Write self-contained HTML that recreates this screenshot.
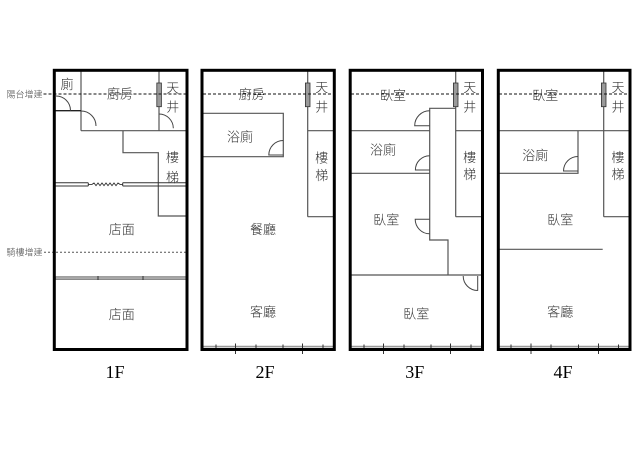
<!DOCTYPE html>
<html>
<head>
<meta charset="utf-8">
<style>
  html,body{margin:0;padding:0;background:#fff;}
  svg{display:block;}
  .t{font-family:"Liberation Sans","Noto Sans CJK TC","Noto Sans CJK SC",sans-serif;font-size:13px;font-weight:300;fill:#333;text-anchor:middle;}
  .s{font-family:"Liberation Sans","Noto Sans CJK TC","Noto Sans CJK SC",sans-serif;font-size:9px;font-weight:300;fill:#444;}
  .f{font-family:"Liberation Serif",serif;font-size:18px;fill:#000;text-anchor:middle;}
  .w{stroke:#000;stroke-width:3;fill:none;}
  .i{stroke:#555;stroke-width:1.2;fill:none;}
  .d{stroke:#444;stroke-width:1;fill:none;}
  .col{fill:#9a9a9a;stroke:#333;stroke-width:0.8;}
  .dash{stroke:#111;stroke-width:1;stroke-dasharray:3,2;fill:none;}
  .dot{stroke:#555;stroke-width:1;stroke-dasharray:2,2;fill:none;}
  .tk{stroke:#333;stroke-width:1;}
  .gl{stroke:#999;stroke-width:1.6;}
</style>
</head>
<body>
<svg width="640" height="453" viewBox="0 0 640 453" xmlns="http://www.w3.org/2000/svg">
  <rect x="0" y="0" width="640" height="453" fill="#fff"/>

  <!-- ================= 1F ================= -->
  <line class="i" x1="81" y1="70" x2="81" y2="130.7"/>
  <line x1="55" y1="110.7" x2="81" y2="110.7" stroke="#222" stroke-width="1.4"/>
  <line class="i" x1="81" y1="130.7" x2="187" y2="130.7" stroke-width="1.6"/>
  <line class="i" x1="159" y1="70" x2="159" y2="130.7"/>
  <polyline class="i" points="123,130.7 123,152.7 158.3,152.7 158.3,216 187,216"/>
  <line x1="55" y1="182.8" x2="88.3" y2="182.8" stroke="#333" stroke-width="1"/>
  <line x1="55" y1="186" x2="88.3" y2="186" stroke="#333" stroke-width="1"/>
  <line x1="122.7" y1="182.8" x2="187" y2="182.8" stroke="#333" stroke-width="1"/>
  <line x1="122.7" y1="186" x2="187" y2="186" stroke="#333" stroke-width="1"/>
  <line x1="88.3" y1="182.8" x2="88.3" y2="186" stroke="#333" stroke-width="1"/>
  <line x1="122.7" y1="182.8" x2="122.7" y2="186" stroke="#333" stroke-width="1"/>
  <polyline fill="none" stroke="#333" stroke-width="0.9" points="88.3,184.4 92,184.4 94,183 96,185.6 98,183 100,185.6 102,183 104,185.6 106,183 108,185.6 110,183 112,185.6 114,183 116,185.6 118,183 120,184.4 122.7,184.4"/>
  <rect x="55.5" y="276.7" width="131" height="2.8" fill="#aaa" stroke="#777" stroke-width="0.8"/>
  <line class="tk" x1="98" y1="276" x2="98" y2="280"/>
  <line class="tk" x1="143" y1="276" x2="143" y2="280"/>
  <path class="d" d="M56,96 A14.5,14.5 0 0 1 70.5,110.5"/>
  <path class="d" d="M81,111 A15,15 0 0 1 96,126"/>
  <path class="d" d="M159,114 A14.3,14.3 0 0 1 173.3,128.3"/>
  <rect class="col" x="156.8" y="83" width="4.6" height="23.7"/>
  <line class="dash" x1="43.5" y1="94" x2="186" y2="94"/>
  <line class="dot" x1="44" y1="252.3" x2="186" y2="252.3"/>
  <text class="s" x="6.5" y="97.4">陽台增建</text>
  <text class="s" x="6.5" y="255.7">騎樓增建</text>
  <text class="t" x="67" y="89">廁</text>
  <text class="t" x="120" y="98.3">廚房</text>
  <text class="t" x="172.7" y="92.3">天</text>
  <text class="t" x="172.7" y="111.7">井</text>
  <text class="t" x="172.5" y="162">樓</text>
  <text class="t" x="172.5" y="182">梯</text>
  <text class="t" x="121.7" y="234">店面</text>
  <text class="t" x="121.7" y="319">店面</text>
  <rect class="w" x="54.3" y="70.3" width="132.7" height="279.2"/>
  <text class="f" x="115" y="378">1F</text>

  <!-- ================= 2F ================= -->
  <line class="i" x1="307.7" y1="70" x2="307.7" y2="216.7"/>
  <line class="i" x1="307.7" y1="130.7" x2="335" y2="130.7"/>
  <line class="i" x1="307.7" y1="216.7" x2="335" y2="216.7"/>
  <polyline class="i" points="203,113.3 283.3,113.3 283.3,156.7 203,156.7"/>
  <path class="d" d="M283.3,140.5 A14.5,14.5 0 0 0 268.8,155 L283.3,155"/>
  <rect class="col" x="305.4" y="83" width="4.6" height="23.7"/>
  <line class="dash" x1="203" y1="94" x2="334" y2="94"/>
  <line class="gl" x1="203.5" y1="346.6" x2="333" y2="346.6"/>
  <line class="tk" x1="216" y1="344.5" x2="216" y2="348.5"/>
  <line class="tk" x1="256" y1="344.5" x2="256" y2="348.5"/>
  <line class="tk" x1="283" y1="344.5" x2="283" y2="348.5"/>
  <line class="tk" x1="323" y1="344.5" x2="323" y2="348.5"/>
  <line class="tk" x1="235.5" y1="343.5" x2="235.5" y2="354"/>
  <line class="tk" x1="302.5" y1="343.5" x2="302.5" y2="354"/>
  <text class="t" x="251.7" y="99">廚房</text>
  <text class="t" x="321.7" y="92">天</text>
  <text class="t" x="321.7" y="111.7">井</text>
  <text class="t" x="240" y="141.7">浴廁</text>
  <text class="t" x="321.7" y="162.5">樓</text>
  <text class="t" x="321.7" y="180">梯</text>
  <text class="t" x="263" y="234">餐廳</text>
  <text class="t" x="263" y="316.7">客廳</text>
  <rect class="w" x="202" y="70.3" width="132.3" height="279.2"/>
  <text class="f" x="265" y="378">2F</text>

  <!-- ================= 3F ================= -->
  <line class="i" x1="455.7" y1="70" x2="455.7" y2="216.7"/>
  <line class="i" x1="455.7" y1="130.7" x2="483" y2="130.7"/>
  <line class="i" x1="455.7" y1="216.7" x2="483" y2="216.7"/>
  <polyline class="i" points="455.7,108.3 429.7,108.3 429.7,240 448,240 448,275"/>
  <line class="i" x1="351" y1="275" x2="483" y2="275"/>
  <line class="i" x1="351" y1="130.7" x2="429.7" y2="130.7"/>
  <line class="i" x1="351" y1="173.3" x2="429.7" y2="173.3"/>
  <path class="d" d="M429.7,110.7 A15,15 0 0 0 414.7,125.7 L429.7,125.7"/>
  <path class="d" d="M429.7,155.7 A14.3,14.3 0 0 0 415.4,170 L429.7,170"/>
  <path class="d" d="M429.7,219.3 L415.2,219.3 A14.5,14.5 0 0 0 429.7,233.8"/>
  <path class="d" d="M477.7,290.7 L477.7,276 M463.2,276 A14.5,14.5 0 0 0 477.7,290.5"/>
  <rect class="col" x="453.4" y="83" width="4.6" height="23.7"/>
  <line class="dash" x1="351" y1="94" x2="482" y2="94"/>
  <line class="gl" x1="351.5" y1="346.6" x2="481" y2="346.6"/>
  <line class="tk" x1="364" y1="344.5" x2="364" y2="348.5"/>
  <line class="tk" x1="404" y1="344.5" x2="404" y2="348.5"/>
  <line class="tk" x1="431" y1="344.5" x2="431" y2="348.5"/>
  <line class="tk" x1="471" y1="344.5" x2="471" y2="348.5"/>
  <line class="tk" x1="383.5" y1="343.5" x2="383.5" y2="354"/>
  <line class="tk" x1="450.5" y1="343.5" x2="450.5" y2="354"/>
  <text class="t" x="393" y="100">臥室</text>
  <text class="t" x="469.7" y="92">天</text>
  <text class="t" x="469.7" y="111.7">井</text>
  <text class="t" x="383" y="154.3">浴廁</text>
  <text class="t" x="469.7" y="162">樓</text>
  <text class="t" x="469.7" y="179">梯</text>
  <text class="t" x="386.3" y="224.5">臥室</text>
  <text class="t" x="416.3" y="318.3">臥室</text>
  <rect class="w" x="350.2" y="70.3" width="132.3" height="279.2"/>
  <text class="f" x="414.7" y="378">3F</text>

  <!-- ================= 4F ================= -->
  <line class="i" x1="603.7" y1="70" x2="603.7" y2="216.7"/>
  <line class="i" x1="603.7" y1="216.7" x2="631" y2="216.7"/>
  <line class="i" x1="499" y1="130.7" x2="631" y2="130.7"/>
  <polyline class="i" points="578,130.7 578,173.3 499,173.3"/>
  <path class="d" d="M578,156.5 A14.5,14.5 0 0 0 563.5,171 L578,171"/>
  <line class="i" x1="499" y1="249.3" x2="602.7" y2="249.3"/>
  <rect class="col" x="601.4" y="83" width="4.6" height="23.7"/>
  <line class="dash" x1="499" y1="94" x2="630" y2="94"/>
  <line class="gl" x1="499.5" y1="346.6" x2="629" y2="346.6"/>
  <line class="tk" x1="511" y1="344.5" x2="511" y2="348.5"/>
  <line class="tk" x1="551" y1="344.5" x2="551" y2="348.5"/>
  <line class="tk" x1="578.5" y1="344.5" x2="578.5" y2="348.5"/>
  <line class="tk" x1="618.5" y1="344.5" x2="618.5" y2="348.5"/>
  <line class="tk" x1="531" y1="343.5" x2="531" y2="354"/>
  <line class="tk" x1="598.5" y1="343.5" x2="598.5" y2="354"/>
  <text class="t" x="545.3" y="100">臥室</text>
  <text class="t" x="618" y="92">天</text>
  <text class="t" x="618" y="111.7">井</text>
  <text class="t" x="535.3" y="160">浴廁</text>
  <text class="t" x="618" y="162">樓</text>
  <text class="t" x="618" y="179">梯</text>
  <text class="t" x="560.3" y="224.3">臥室</text>
  <text class="t" x="560.3" y="316.7">客廳</text>
  <rect class="w" x="498.3" y="70.3" width="131.7" height="279.2"/>
  <text class="f" x="563" y="378">4F</text>
</svg>
</body>
</html>
